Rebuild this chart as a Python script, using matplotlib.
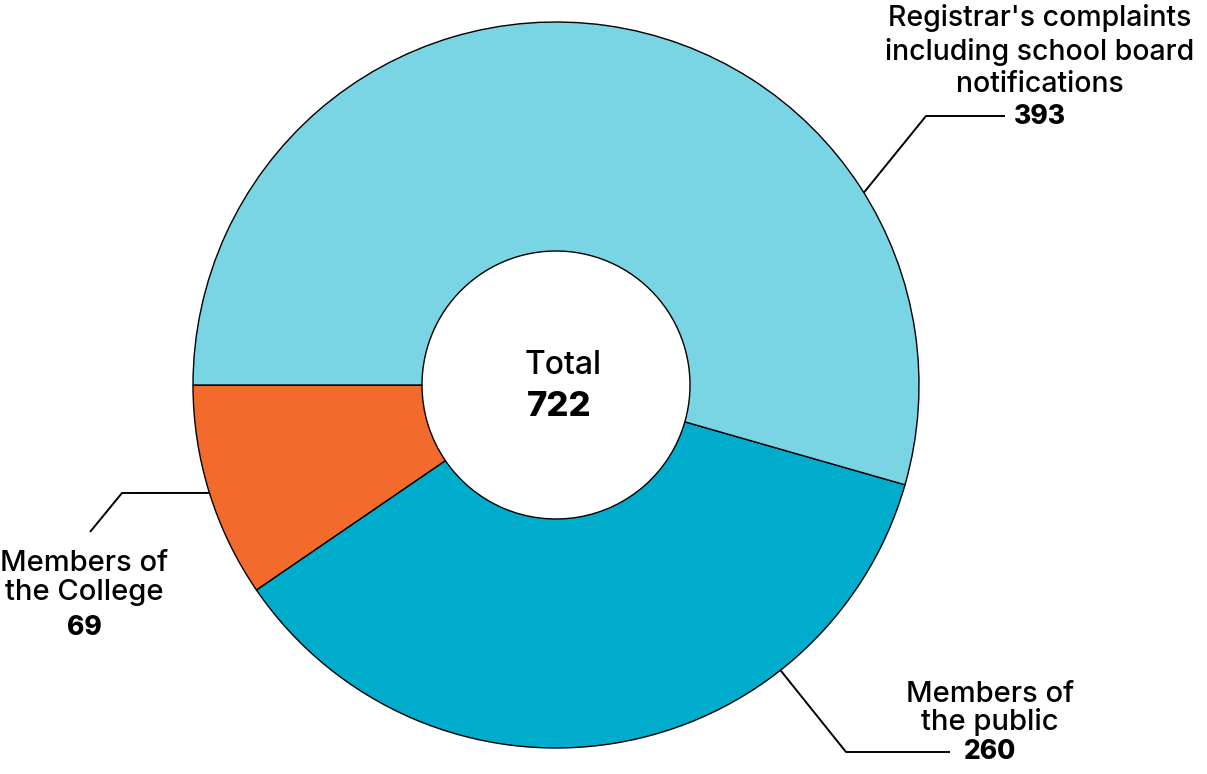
import numpy as np
import matplotlib
matplotlib.use("Agg")
import matplotlib.pyplot as plt

categories = ["Members of\nthe College", "Members of\nthe public",
              "Registrar's complaints\nincluding school board\nnotifications"]
values = [69, 260, 393]
colors = ["#F26B2D", "#00ACCB", "#79D4E3"]
total_label = "Total"

W, H = 1207, 774
fig = plt.figure(figsize=(W / 100, H / 100), dpi=100)
ax = fig.add_axes([0, 0, 1, 1])

cx, cy = 556, H - 385
R, r_in = 363, 134

wedges, _ = ax.pie(values, colors=colors, startangle=180, counterclock=True,
                   radius=R, center=(cx, cy), frame=True,
                   wedgeprops=dict(width=R - r_in, edgecolor="black", linewidth=1.0))
ax.set_xlim(0, W)
ax.set_ylim(0, H)
ax.set_aspect("equal")
ax.axis("off")

font = "Inter"
lw = 500

# center text
ax.text(cx + 7, H - 366, total_label, ha="center", va="center", fontsize=23,
        family=font, fontweight=lw)
ax.text(cx + 3, H - 407, str(sum(values)), ha="center", va="center", fontsize=25,
        family=font, fontweight="heavy")

def leader(angle_deg, elbow, end):
    a = np.deg2rad(angle_deg)
    p0 = (cx + R * np.cos(a), cy + R * np.sin(a))
    ax.plot([p0[0], elbow[0], end[0]], [p0[1], H - elbow[1], H - end[1]],
            color="black", lw=1.4, solid_capstyle="butt")

# Registrar
leader(32, (926, 116), (1005, 116))
ax.text(1040, H - 51, categories[2], ha="center", va="center", fontsize=20.5,
        family=font, fontweight=lw, linespacing=1.24)
ax.text(1040, H - 117, str(values[2]), ha="center", va="center", fontsize=19,
        family=font, fontweight="heavy")

# Public
leader(-51.8, (846, 752), (950, 752))
ax.text(990, H - 708, categories[1], ha="center", va="center", fontsize=21,
        family=font, fontweight=lw, linespacing=1.0)
ax.text(990, H - 752, str(values[1]), ha="center", va="center", fontsize=19,
        family=font, fontweight="heavy")

# College
leader(197.3, (122, 493), (90, 532))
ax.text(84, H - 578, categories[0], ha="center", va="center", fontsize=21,
        family=font, fontweight=lw, linespacing=1.05)
ax.text(84, H - 628, str(values[0]), ha="center", va="center", fontsize=19,
        family=font, fontweight="heavy")

fig.savefig("out.png", dpi=100, facecolor="white")
